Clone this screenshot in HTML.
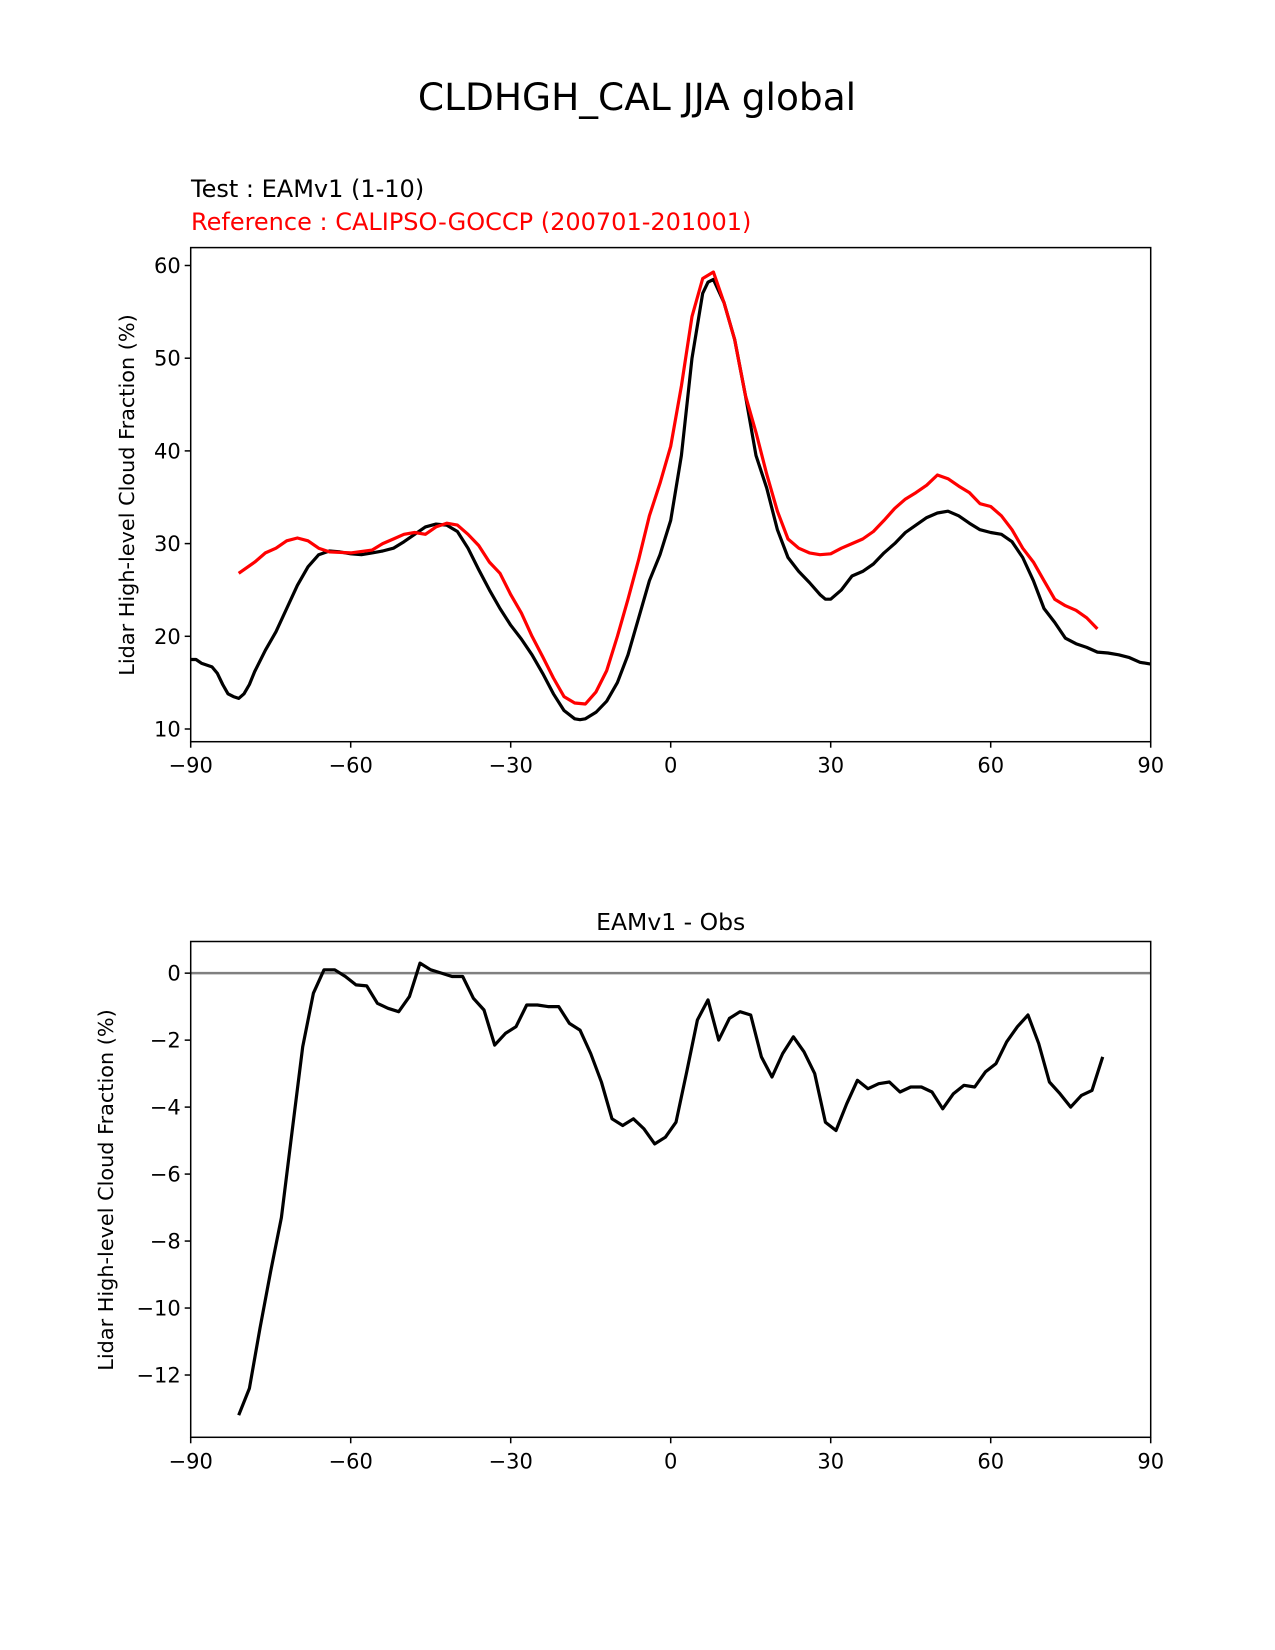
<!DOCTYPE html>
<html><head><meta charset="utf-8"><style>
body{margin:0;background:#fff}
svg{display:block;font-family:"DejaVu Sans","Liberation Sans",sans-serif}
</style></head><body>
<svg id="fig" width="1275" height="1650" viewBox="0 0 1275 1650" xmlns="http://www.w3.org/2000/svg">
<rect width="1275" height="1650" fill="#fff"/>
<text x="637" y="110" font-size="37.5" text-anchor="middle">CLDHGH_CAL JJA global</text>
<text x="191" y="197" font-size="24">Test : EAMv1 (1-10)</text>
<text x="191" y="230" font-size="24" fill="#ff0000">Reference : CALIPSO-GOCCP (200701-201001)</text>
<text x="670.7" y="930" font-size="23.5" text-anchor="middle">EAMv1 - Obs</text>
<text transform="translate(134,495) rotate(-90)" font-size="20.8" text-anchor="middle">Lidar High-level Cloud Fraction (%)</text>
<text transform="translate(113,1190) rotate(-90)" font-size="20.8" text-anchor="middle">Lidar High-level Cloud Fraction (%)</text>
<g id="top"></g><g id="bot"></g>
</svg>
<script>
const testLat=[-90,-89,-88,-86,-85,-84,-83,-82,-81,-80,-79,-78,-76,-74,-72,-70,-68,-66,-64,-62,-60,-58,-56,-54,-52,-50,-48,-46,-44,-42,-40,-38,-36,-34,-32,-30,-28,-26,-24,-22,-20,-18,-17,-16,-14,-12,-10,-8,-6,-4,-2,0,2,4,6,7,8,10,12,14,16,18,20,22,24,26,28,29,30,32,34,36,38,40,42,44,46,48,50,52,54,56,58,60,62,64,66,68,70,72,74,76,78,80,82,84,86,88,90];
const testVal=[17.5,17.5,17.1,16.7,16.0,14.8,13.8,13.5,13.3,13.8,14.8,16.2,18.5,20.5,23,25.5,27.5,28.8,29.2,29.1,28.9,28.8,29,29.2,29.5,30.2,31,31.8,32.1,32,31.3,29.5,27.2,25,23,21.2,19.7,18,16,13.8,12,11.1,11,11.1,11.8,13,15,18,22,26,28.8,32.5,39.5,50,57,58.2,58.5,56,52,46,39.5,36,31.5,28.5,27,25.8,24.5,24,24,25,26.5,27,27.8,29,30,31.2,32,32.8,33.3,33.5,33,32.2,31.5,31.2,31,30.2,28.5,26,23,21.5,19.8,19.2,18.8,18.3,18.2,18,17.7,17.2,17];
const refLat=[-81,-78,-76,-74,-72,-70,-68,-66,-64,-60,-56,-54,-52,-50,-48,-46,-44,-42,-40,-38,-36,-34,-32,-30,-28,-26,-24,-22,-20,-18,-16,-14,-12,-10,-8,-6,-4,-2,0,2,4,6,8,10,12,14,16,18,20,22,24,26,28,30,32,34,36,38,40,42,44,46,48,50,52,54,56,58,60,62,64,66,68,70,72,74,76,78,80];
const refVal=[26.8,28,29,29.5,30.3,30.6,30.3,29.5,29.1,29,29.3,30,30.5,31,31.2,31,31.8,32.2,32,31,29.8,28,26.8,24.5,22.5,20,17.8,15.5,13.5,12.8,12.7,14,16.3,20,24,28.3,33,36.5,40.5,47,54.5,58.6,59.3,56,52,46,42,37.5,33.5,30.5,29.5,29,28.8,28.9,29.5,30,30.5,31.3,32.5,33.8,34.8,35.5,36.3,37.4,37,36.2,35.5,34.3,34,33,31.5,29.5,28,26,24,23.3,22.8,22,20.8];
const diffLat=[-81,-79,-77,-75,-73,-71,-69,-67,-65,-63,-61,-59,-57,-55,-53,-51,-49,-47,-45,-43,-41,-39,-37,-35,-33,-31,-29,-27,-25,-23,-21,-19,-17,-15,-13,-11,-9,-7,-5,-3,-1,1,3,5,7,9,11,13,15,17,19,21,23,25,27,29,31,33,35,37,39,41,43,45,47,49,51,53,55,57,59,61,63,65,67,69,71,73,75,77,79,81];
const diffVal=[-13.2,-12.4,-10.6,-8.9,-7.3,-4.75,-2.2,-0.6,0.1,0.1,-0.1,-0.35,-0.38,-0.9,-1.05,-1.15,-0.7,0.3,0.1,0,-0.1,-0.1,-0.75,-1.1,-2.15,-1.8,-1.6,-0.95,-0.95,-1.0,-1.0,-1.5,-1.7,-2.4,-3.25,-4.35,-4.55,-4.35,-4.65,-5.1,-4.9,-4.45,-2.95,-1.4,-0.8,-2.0,-1.35,-1.15,-1.25,-2.5,-3.1,-2.4,-1.9,-2.35,-3.0,-4.45,-4.7,-3.9,-3.2,-3.45,-3.3,-3.25,-3.55,-3.4,-3.4,-3.55,-4.05,-3.6,-3.35,-3.4,-2.95,-2.7,-2.05,-1.6,-1.25,-2.1,-3.25,-3.6,-4.0,-3.65,-3.5,-2.5];
const xTicks=[-90,-60,-30,0,30,60,90];
const topYTicks=[10,20,30,40,50,60];
const botYTicks=[-12,-10,-8,-6,-4,-2,0];
const NS='http://www.w3.org/2000/svg';
function mk(p,t,a){const e=document.createElementNS(NS,t);for(const k in a)e.setAttribute(k,a[k]);p.appendChild(e);return e;}
const L=190.7,R=1150.7;
const sx=v=>L+(v+90)/180*(R-L);
function axes(g,T,B,ymin,ymax,yt,name){
  const sy=v=>B-(v-ymin)/(ymax-ymin)*(B-T);
  yt.forEach(v=>{const y=sy(v);
    const l=mk(g,'line',{x1:L-6,x2:L,y1:y,y2:y,stroke:'#000','stroke-width':1.5});
    
    const t=mk(g,'text',{x:L-10,y:y+7.5,'font-size':21,'text-anchor':'end'});
    
    t.textContent=String(v).replace('-','\u2212');});
  xTicks.forEach(v=>{const x=sx(v);
    const l=mk(g,'line',{x1:x,x2:x,y1:B,y2:B+6,stroke:'#000','stroke-width':1.5});
    
    const t=mk(g,'text',{x:x,y:B+31,'font-size':21,'text-anchor':'middle'});
    
    t.textContent=String(v).replace('-','\u2212');});
  return sy;
}
function line(g,lat,val,sy,color,name){
  const d=lat.map((v,i)=>(i?'L':'M')+sx(v).toFixed(1)+' '+sy(val[i]).toFixed(1)).join(' ');
  const p=mk(g,'path',{d:d,fill:'none',stroke:color,'stroke-width':3.2,'stroke-linejoin':'round'});
  
}
function frame(g,T,B,name){
  const r=mk(g,'rect',{x:L,y:T,width:R-L,height:B-T,fill:'none',stroke:'#000','stroke-width':1.5});
  
}
const gt=document.getElementById('top');

const syT=axes(gt,247.6,741.7,8.63,61.93,topYTicks,'top');
line(gt,testLat,testVal,syT,'#000','test-line');
line(gt,refLat,refVal,syT,'#ff0000','reference-line');
frame(gt,247.6,741.7,'top-axes-frame');
const gb=document.getElementById('bot');

const syB=axes(gb,941.5,1437.3,-13.86,0.945,botYTicks,'bottom');
const z=mk(gb,'line',{x1:L,x2:R,y1:syB(0),y2:syB(0),stroke:'#808080','stroke-width':2.5});

line(gb,diffLat,diffVal,syB,'#000','difference-line');
frame(gb,941.5,1437.3,'bottom-axes-frame');
</script>
</body></html>
